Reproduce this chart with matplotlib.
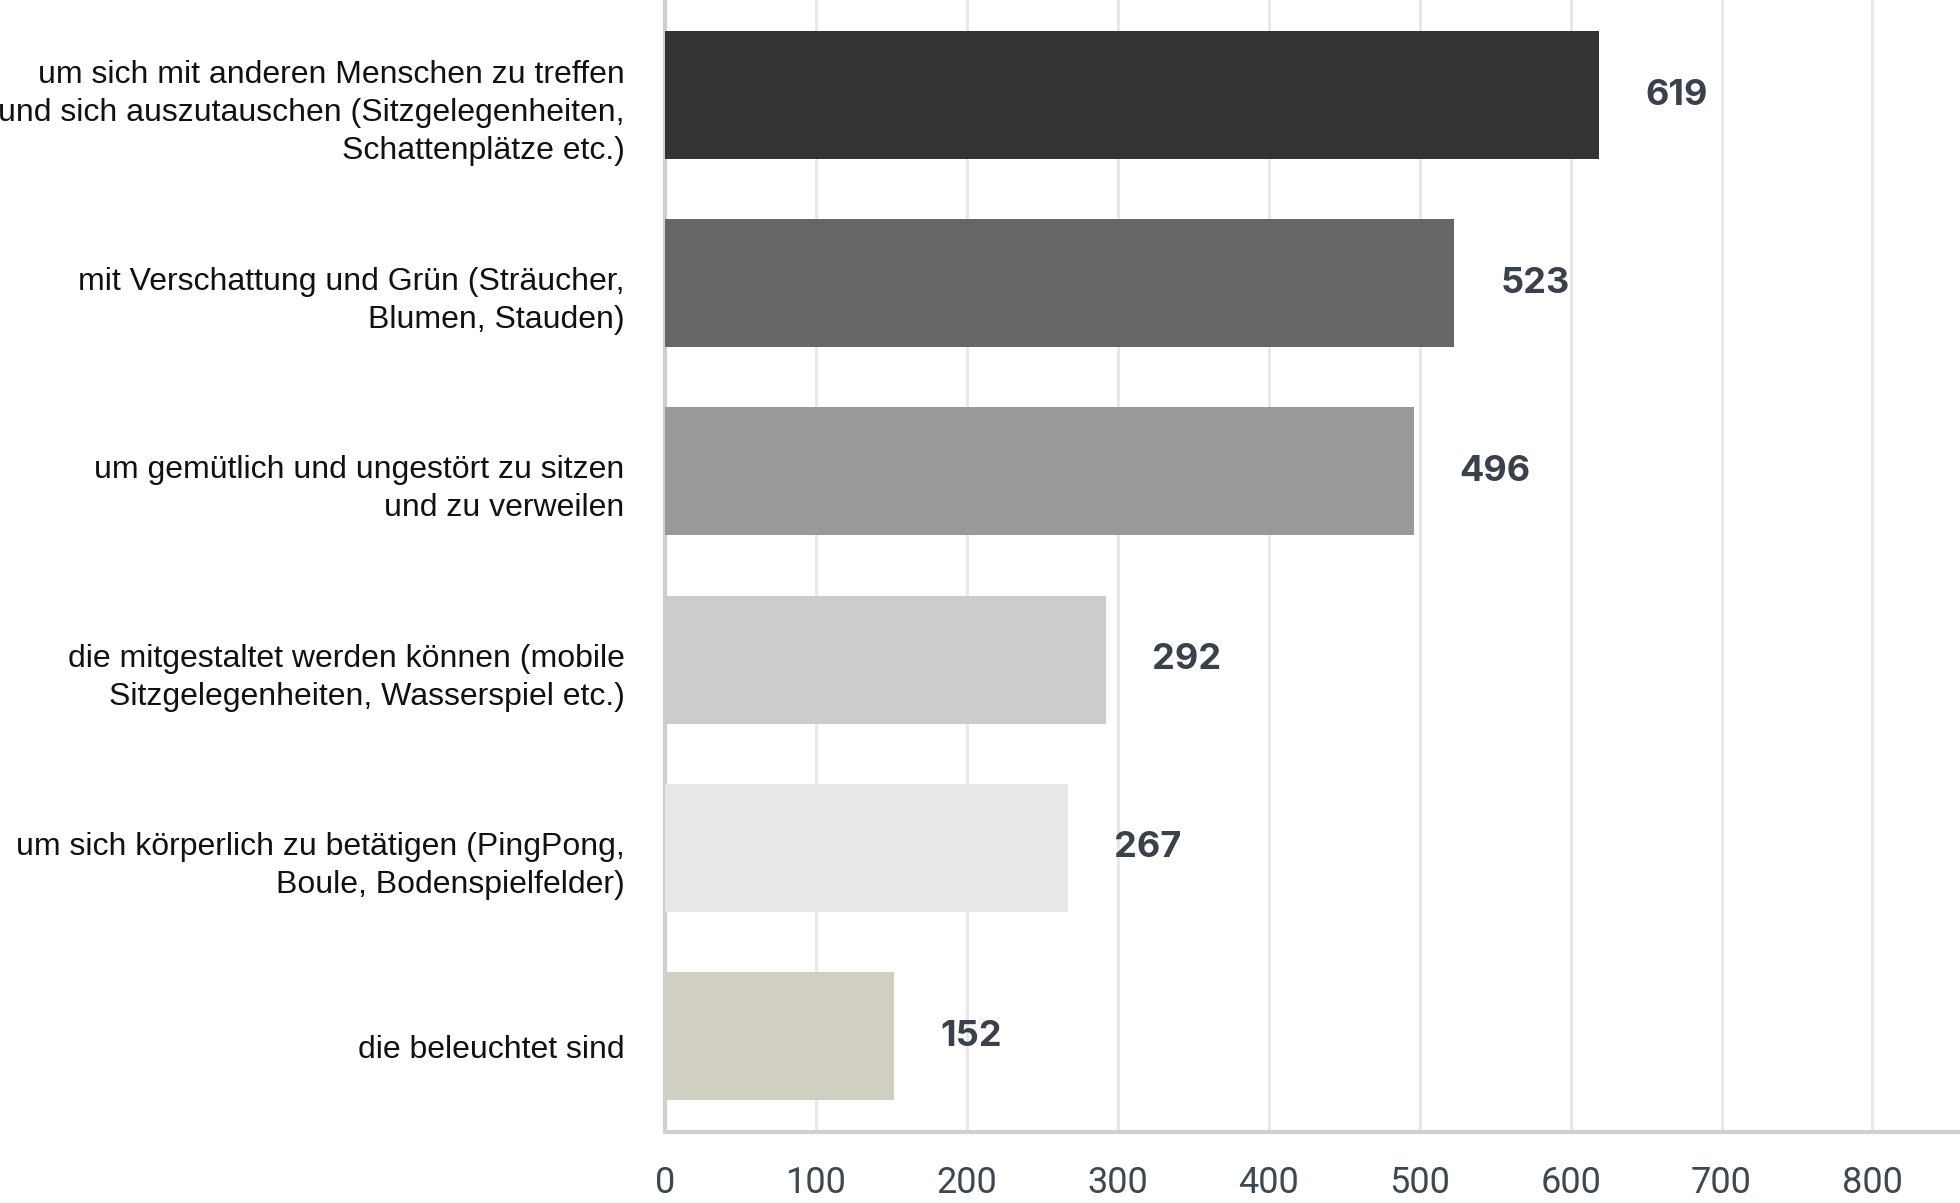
import matplotlib
matplotlib.use("Agg")
import matplotlib.pyplot as plt
import matplotlib.transforms as mtransforms

categories = [
    "um sich mit anderen Menschen zu treffen\nund sich auszutauschen (Sitzgelegenheiten,\nSchattenplätze etc.)",
    "mit Verschattung und Grün (Sträucher,\nBlumen, Stauden)",
    "um gemütlich und ungestört zu sitzen\nund zu verweilen",
    "die mitgestaltet werden können (mobile\nSitzgelegenheiten, Wasserspiel etc.)",
    "um sich körperlich zu betätigen (PingPong,\nBoule, Bodenspielfelder)",
    "die beleuchtet sind",
]
values = [619, 523, 496, 292, 267, 152]
bar_colors = ["#333333", "#666666", "#999999", "#cccccc", "#e8e8e7", "#d0cfc1"]
xticks = [0, 100, 200, 300, 400, 500, 600, 700, 800]

fig = plt.figure(figsize=(19.6, 12.03), dpi=100)
ax = fig.add_axes([665 / 1960, 1 - 1132 / 1203, 1 - 665 / 1960, 1132 / 1203])

ypos = list(range(len(values)))
ax.barh(ypos, values, height=0.68, color=bar_colors, linewidth=0, zorder=3)
ax.set_ylim(5.51, -0.505)
ax.set_xlim(0, 858)

ax.set_xticks(xticks)
ax.set_xticklabels([str(t) for t in xticks], fontsize=26,
                   family=["Roboto", "DejaVu Sans"],
                   color="#3d4852")
ax.tick_params(axis="x", length=0, pad=24)
ax.set_yticks(ypos)
ax.set_yticklabels(categories, fontsize=23, family=["Liberation Sans", "DejaVu Sans"],
                   color="#111111", linespacing=1.35)
ax.tick_params(axis="y", length=0, pad=29)
offset = mtransforms.ScaledTranslation(0, -10.5 / 100, fig.dpi_scale_trans)
for lab in ax.get_yticklabels():
    lab.set_transform(lab.get_transform() + offset)

ax.grid(axis="x", color="#e6e6e6", linewidth=2, zorder=0)
ax.grid(axis="y", visible=False)
for s in ["top", "right"]:
    ax.spines[s].set_visible(False)
for s in ["left", "bottom"]:
    ax.spines[s].set_color("#cfcfcf")
    ax.spines[s].set_linewidth(3)

for y, v in zip(ypos, values):
    ax.annotate(str(v), xy=(v, y), xytext=(33, 0), textcoords="offset points",
                ha="left", va="center", fontsize=26, fontweight="bold",
                family=["Inter", "Roboto", "DejaVu Sans"], color="#39414c")

fig.savefig("out.png", dpi=100)
